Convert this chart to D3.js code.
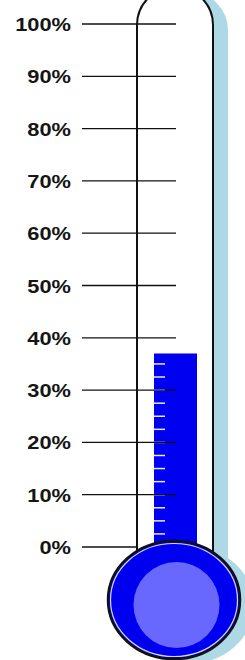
<!DOCTYPE html>
<html>
<head>
<meta charset="utf-8">
<script src="https://cdn.jsdelivr.net/npm/d3@7"></script>
<style>
  html, body { margin: 0; padding: 0; background: #fff; }
  svg { display: block; }
</style>
</head>
<body>
<div id="graphic"></div>
<script>
// data
var tickValues = [0, 10, 20, 30, 40, 50, 60, 70, 80, 90, 100];
var tickLabels = ["0%", "10%", "20%", "30%", "40%", "50%", "60%", "70%", "80%", "90%", "100%"];
var minorStep = [2.5];
var currentValue = [37];

var width = 245, height = 660;

var svg = d3.select("#graphic").append("svg")
  .attr("width", width)
  .attr("height", height);

var y = d3.scaleLinear().domain([0, 100]).range([547, 24]);

var tubeLeft = 137, tubeRight = 213;
var tubeR = (tubeRight - tubeLeft) / 2;
var tubeTopCy = 25;
var bulb = {cx: 174, cy: 600, rx: 66, ry: 59};
var merc = {x0: 154, x1: 197};

function tubePath(dx, dy) {
  return "M" + (tubeLeft + dx) + "," + (y(0) + 20 + dy) +
    "V" + (tubeTopCy + dy) +
    "A" + tubeR + "," + tubeR + " 0 0 1 " + (tubeRight + dx) + "," + (tubeTopCy + dy) +
    "V" + (y(0) + 20 + dy) + "Z";
}

// shadow
var shadow = svg.append("g").attr("fill", "#add8e6");
shadow.append("path").attr("d", tubePath(15, 5));
shadow.append("ellipse")
  .attr("cx", bulb.cx + 14).attr("cy", bulb.cy + 5)
  .attr("rx", bulb.rx).attr("ry", bulb.ry);

// tube
svg.append("path")
  .attr("d", tubePath(0, 0))
  .attr("fill", "#fff")
  .attr("stroke", "#111")
  .attr("stroke-width", 2);

// mercury column
svg.append("rect")
  .attr("x", merc.x0)
  .attr("y", y(currentValue[0]))
  .attr("width", merc.x1 - merc.x0)
  .attr("height", y(0) - y(currentValue[0]) + 20)
  .attr("fill", "#0000f0");

// minor ticks on mercury
var minor = d3.range(0, currentValue[0], minorStep[0]).filter(function(d) { return d > 0; });
svg.append("g")
  .selectAll("line")
  .data(minor)
  .enter().append("line")
  .attr("x1", merc.x0)
  .attr("x2", merc.x0 + 11)
  .attr("y1", function(d) { return y(d); })
  .attr("y2", function(d) { return y(d); })
  .attr("stroke", "#e8e8ff")
  .attr("stroke-width", 1.5);

// gridlines
svg.append("g")
  .selectAll("line")
  .data(tickValues)
  .enter().append("line")
  .attr("x1", 82)
  .attr("x2", function(d) { return d === 0 ? tubeLeft : 176; })
  .attr("y1", function(d) { return y(d); })
  .attr("y2", function(d) { return y(d); })
  .attr("stroke", "#111")
  .attr("stroke-width", 1.3);

// labels
svg.append("g")
  .selectAll("text")
  .data(tickValues)
  .enter().append("text")
  .attr("transform", function(d) { return "translate(71," + (y(d) + 7) + ") scale(1.18,1)"; })
  .attr("text-anchor", "end")
  .attr("font-family", "Liberation Sans, Arial, sans-serif")
  .attr("font-weight", "bold")
  .attr("font-size", 18.5)
  .attr("fill", "#151515")
  .text(function(d, i) { return tickLabels[i]; });

// bulb
svg.append("ellipse")
  .attr("cx", bulb.cx).attr("cy", bulb.cy)
  .attr("rx", bulb.rx).attr("ry", bulb.ry)
  .attr("fill", "#0000f0")
  .attr("stroke", "#111")
  .attr("stroke-width", 2.5);

svg.append("ellipse")
  .attr("cx", bulb.cx).attr("cy", bulb.cy)
  .attr("rx", bulb.rx - 2.5).attr("ry", bulb.ry - 2.5)
  .attr("fill", "none")
  .attr("stroke", "#d8d8ff")
  .attr("stroke-width", 1.2);

svg.append("circle")
  .attr("cx", 176.5).attr("cy", 605)
  .attr("r", 43)
  .attr("fill", "#6868ff");
</script>
</body>
</html>
